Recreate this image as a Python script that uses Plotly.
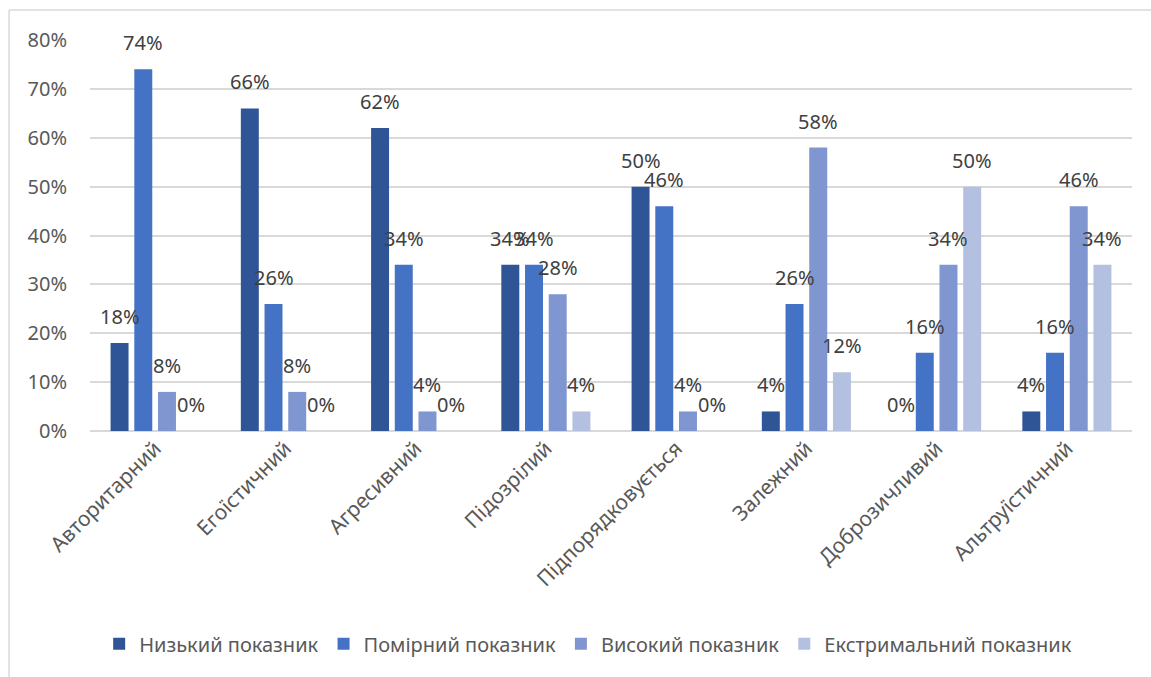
import plotly.graph_objects as go

categories = ["Авторитарний", "Егоїстичний", "Агресивний", "Підозрілий",
              "Підпорядковується", "Залежний", "Доброзичливий", "Альтруїстичний"]
series_names = ["Низький показник", "Помірний показник",
                "Високий показник", "Екстримальний показник"]
low = [18, 66, 62, 34, 50, 4, 0, 4]
moderate = [74, 26, 34, 34, 46, 26, 16, 16]
high = [8, 8, 4, 28, 4, 58, 34, 46]
extreme = [0, 0, 0, 4, 0, 12, 50, 34]
y_ticks = [0, 10, 20, 30, 40, 50, 60, 70, 80]

colors = ["#2F5597", "#4472C4", "#7F96D1", "#B4C0E0"]
series_values = [low, moderate, high, extreme]

FONT = "Noto Sans"
TXT = "#595959"

pitch = 0.182   # distance between neighbouring bars in a group (category units)
bar_w = 0.138   # bar width (category units)
n = len(series_values)

fig = go.Figure()
annotations = []
for k, (name, vals, col) in enumerate(zip(series_names, series_values, colors)):
    offs = (k - (n - 1) / 2) * pitch
    xs = [i + offs for i in range(len(categories))]
    fig.add_trace(go.Bar(
        x=xs, y=vals, width=bar_w, name=name,
        marker=dict(color=col, line=dict(width=0)),
        hoverinfo="skip",
    ))
    for x, v in zip(xs, vals):
        annotations.append(dict(
            x=x, y=v, xref="x", yref="y", text=f"{v}%", showarrow=False,
            yanchor="bottom", xanchor="center", yshift=11,
            font=dict(family=FONT, size=20, color="#404040"),
        ))

fig.update_layout(
    width=1151, height=677,
    margin=dict(l=90, r=19, t=40, b=246),
    paper_bgcolor="white", plot_bgcolor="white",
    barmode="overlay",
    showlegend=True,
    legend=dict(orientation="h", xref="container", x=0.511, xanchor="center",
                yref="container", y=0.049, yanchor="middle",
                font=dict(family=FONT, size=20, color=TXT),
                itemwidth=30, tracegroupgap=0, traceorder="normal"),
    annotations=annotations,
    font=dict(family=FONT, color=TXT),
)
fig.update_xaxes(
    range=[-0.5, len(categories) - 0.5],
    tickmode="array", tickvals=list(range(len(categories))), ticktext=categories,
    tickangle=-45, tickfont=dict(family=FONT, size=21, color=TXT),
    showgrid=False, zeroline=False, showline=False, ticks="",
)
fig.update_yaxes(
    range=[0, 80], tickmode="array", tickvals=y_ticks,
    ticktext=[f"{t}%" for t in y_ticks],
    tickfont=dict(family=FONT, size=20, color=TXT),
    showgrid=True, gridcolor="#D9D9D9", gridwidth=2,
    zeroline=True, zerolinecolor="#D9D9D9", zerolinewidth=2,
    showline=False, ticks="", ticklabelstandoff=22,
)

# outer chart frame (top and left edges)
fig.add_shape(type="line", xref="paper", yref="paper",
              x0=-0.0777, x1=1.2, y0=1.0767, y1=1.0767,
              line=dict(color="#D9D9D9", width=1.5))
fig.add_shape(type="line", xref="paper", yref="paper",
              x0=-0.0777, x1=-0.0777, y0=1.0767, y1=-1.0,
              line=dict(color="#D9D9D9", width=1.5))

fig.write_html("out.html")
